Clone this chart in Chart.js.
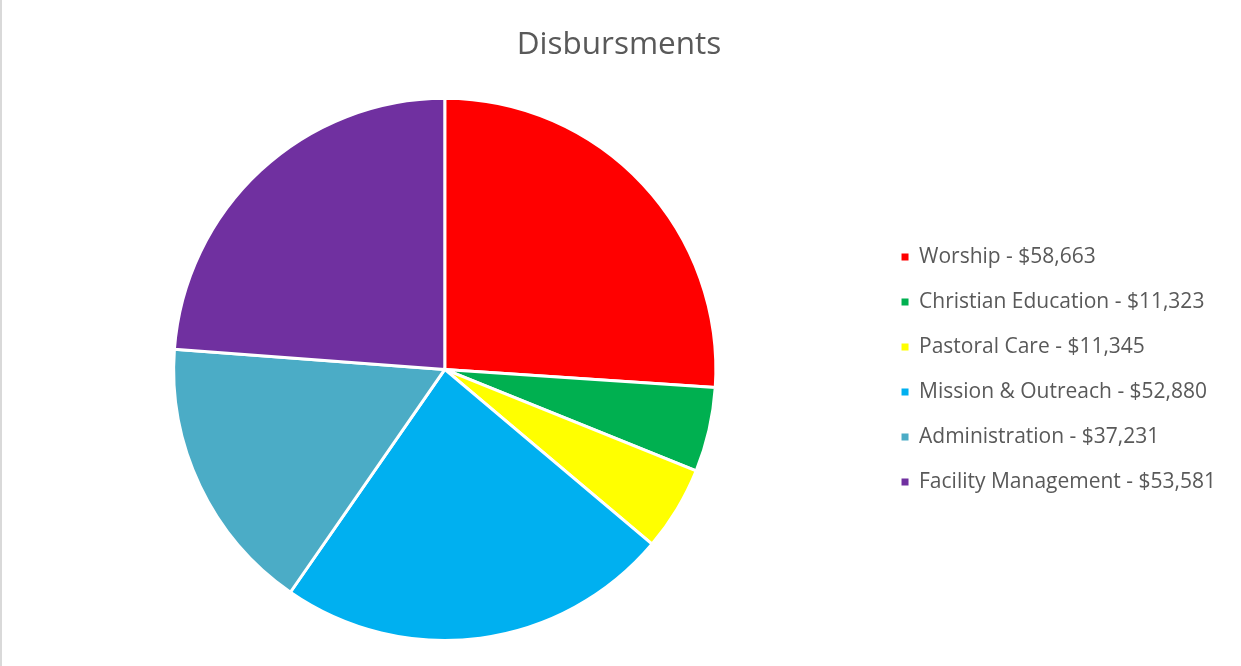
<!DOCTYPE html>
<html>
<head>
<meta charset="utf-8">
<script src="https://cdn.jsdelivr.net/npm/chart.js@4"></script>
<style>
  html, body { margin: 0; padding: 0; background: #fff; }
  body { width: 1241px; height: 666px; overflow: hidden; }
  #wrap { position: absolute; left: 0; top: 0; width: 1241px; height: 666px; }
  #edge { position: absolute; left: 0; top: 0; width: 2px; height: 666px; background: #d9d9d9; }
</style>
</head>
<body>
<div id="wrap"><canvas id="c" width="1241" height="666"></canvas></div>
<div id="edge"></div>
<script>
const categories = ["Worship", "Christian Education", "Pastoral Care", "Mission & Outreach", "Administration", "Facility Management"];
const values = [58663, 11323, 11345, 52880, 37231, 53581];
const colors = ["#FF0000", "#00B050", "#FFFF00", "#00B0F0", "#4BACC6", "#7030A0"];
const titleText = "Disbursments";

const fmt = v => "$" + v.toLocaleString("en-US");
const labels = categories.map((c, i) => c + " - " + fmt(values[i]));

const FONT = "'Open Sans', 'Liberation Sans', sans-serif";

new Chart(document.getElementById("c"), {
  type: "pie",
  data: {
    labels: labels,
    datasets: [{
      data: values,
      backgroundColor: colors,
      borderColor: "#ffffff",
      borderWidth: 3
    }]
  },
  options: {
    responsive: false,
    animation: false,
    devicePixelRatio: 1,
    layout: { padding: { left: 12, right: 15, top: 0, bottom: 24 } },
    plugins: {
      title: {
        display: true,
        text: titleText,
        color: "#595959",
        font: { family: FONT, size: 31.5, weight: "normal" },
        padding: { top: 26, bottom: 33 }
      },
      legend: {
        position: "right",
        fullSize: false,
        labels: {
          color: "#595959",
          font: { family: FONT, size: 21 },
          boxWidth: 7,
          boxHeight: 7,
          padding: 24,
          generateLabels: chart => chart.data.labels.map((l, i) => ({
            text: l,
            fillStyle: colors[i],
            strokeStyle: colors[i],
            lineWidth: 0,
            hidden: false,
            index: i,
            fontColor: "#595959"
          }))
        }
      },
      tooltip: { enabled: false }
    }
  }
});
</script>
</body>
</html>
